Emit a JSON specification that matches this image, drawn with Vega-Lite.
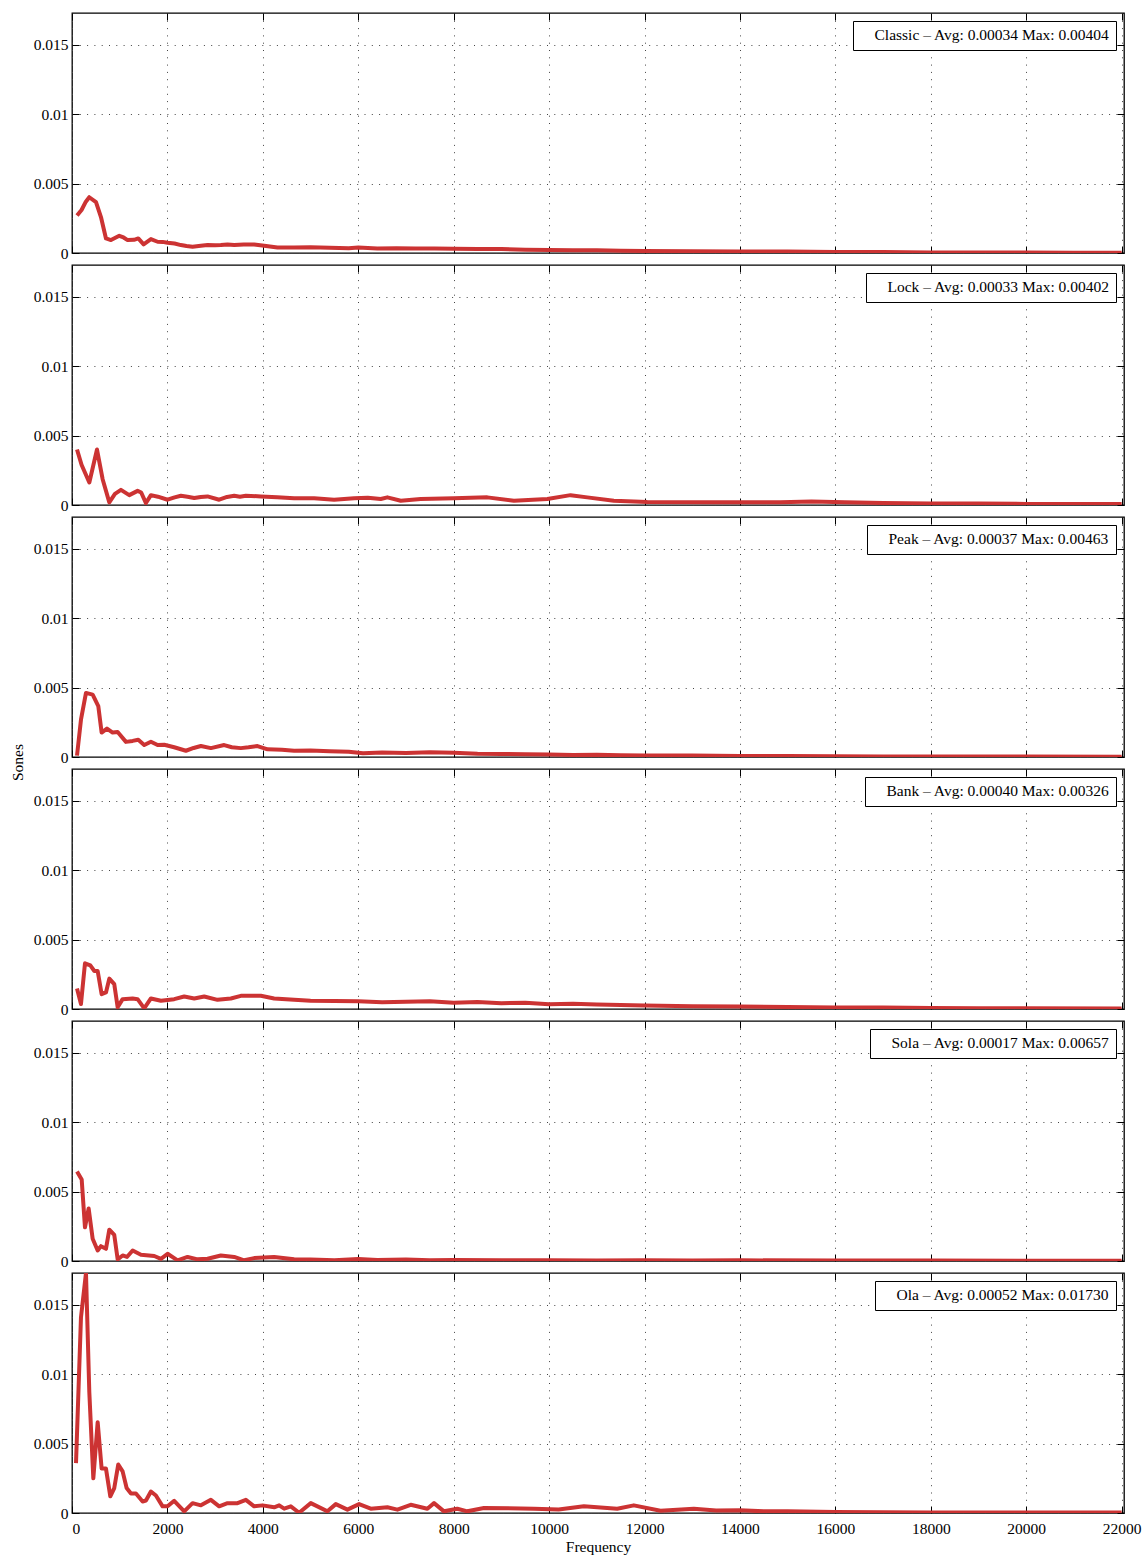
{
  "$schema": "https://vega.github.io/schema/vega-lite/v6.json",
  "padding": {"left": 9, "top": 11, "right": 5, "bottom": 2},
  "bounds": "flush",
  "spacing": 12,
  "config": {
    "font": "Liberation Serif",
    "view": {"stroke": "black", "strokeWidth": 1.3},
    "axis": {"domain": false, "tickSize": -7, "tickColor": "black", "tickWidth": 1, "labelFont": "Liberation Serif", "labelFontSize": 15.5, "labelColor": "black", "labelPadding": 11, "gridColor": "#444", "gridDash": [1, 6.3], "gridWidth": 1, "titleFont": "Liberation Serif", "titleFontSize": 15.5, "titleFontWeight": "normal", "titleColor": "black"},
    "legend": {"orient": "top-right", "offset": 8, "title": null, "strokeColor": "black", "fillColor": "white", "padding": 6, "symbolSize": 0, "symbolStrokeWidth": 0, "symbolOpacity": 0, "labelOffset": 0, "labelFont": "Liberation Serif", "labelFontSize": 15.5, "labelColor": "black", "labelLimit": 600}
  },
  "datasets": {
    "legends": [
      {"name": "Classic", "label": "Classic – Avg: 0.00034 Max: 0.00404"},
      {"name": "Lock", "label": "Lock – Avg: 0.00033 Max: 0.00402"},
      {"name": "Peak", "label": "Peak – Avg: 0.00037 Max: 0.00463"},
      {"name": "Bank", "label": "Bank – Avg: 0.00040 Max: 0.00326"},
      {"name": "Sola", "label": "Sola – Avg: 0.00017 Max: 0.00657"},
      {"name": "Ola", "label": "Ola – Avg: 0.00052 Max: 0.01730"}
    ],
    "spectra": [
      {"name":"Classic","freq":105,"sones":0.0027},{"name":"Classic","freq":200,"sones":0.0031},{"name":"Classic","freq":290,"sones":0.0037},{"name":"Classic","freq":362,"sones":0.00402},{"name":"Classic","freq":503,"sones":0.00366},{"name":"Classic","freq":607,"sones":0.00259},{"name":"Classic","freq":712,"sones":0.00105},{"name":"Classic","freq":817,"sones":0.00093},{"name":"Classic","freq":991,"sones":0.00124},{"name":"Classic","freq":1080,"sones":0.00112},{"name":"Classic","freq":1166,"sones":0.00093},{"name":"Classic","freq":1300,"sones":0.00095},{"name":"Classic","freq":1389,"sones":0.00105},{"name":"Classic","freq":1501,"sones":0.00062},{"name":"Classic","freq":1654,"sones":0.001},{"name":"Classic","freq":1794,"sones":0.00081},{"name":"Classic","freq":1900,"sones":0.0008},{"name":"Classic","freq":2003,"sones":0.00074},{"name":"Classic","freq":2150,"sones":0.00068},{"name":"Classic","freq":2283,"sones":0.00057},{"name":"Classic","freq":2400,"sones":0.0005},{"name":"Classic","freq":2527,"sones":0.00045},{"name":"Classic","freq":2700,"sones":0.00052},{"name":"Classic","freq":2841,"sones":0.00057},{"name":"Classic","freq":3000,"sones":0.00055},{"name":"Classic","freq":3120,"sones":0.00057},{"name":"Classic","freq":3260,"sones":0.00062},{"name":"Classic","freq":3400,"sones":0.00058},{"name":"Classic","freq":3600,"sones":0.00062},{"name":"Classic","freq":3818,"sones":0.00062},{"name":"Classic","freq":4028,"sones":0.00052},{"name":"Classic","freq":4307,"sones":0.0004},{"name":"Classic","freq":4650,"sones":0.0004},{"name":"Classic","freq":5000,"sones":0.00042},{"name":"Classic","freq":5400,"sones":0.00038},{"name":"Classic","freq":5800,"sones":0.00035},{"name":"Classic","freq":6000,"sones":0.0004},{"name":"Classic","freq":6400,"sones":0.00033},{"name":"Classic","freq":6800,"sones":0.00035},{"name":"Classic","freq":7200,"sones":0.00032},{"name":"Classic","freq":7600,"sones":0.00033},{"name":"Classic","freq":8000,"sones":0.00031},{"name":"Classic","freq":8500,"sones":0.00029},{"name":"Classic","freq":9000,"sones":0.00028},{"name":"Classic","freq":9500,"sones":0.00024},{"name":"Classic","freq":10000,"sones":0.00022},{"name":"Classic","freq":10500,"sones":0.0002},{"name":"Classic","freq":11000,"sones":0.0002},{"name":"Classic","freq":11500,"sones":0.00017},{"name":"Classic","freq":12000,"sones":0.00015},{"name":"Classic","freq":13000,"sones":0.00013},{"name":"Classic","freq":14000,"sones":0.0001},{"name":"Classic","freq":15000,"sones":0.0001},{"name":"Classic","freq":16000,"sones":0.00008},{"name":"Classic","freq":17000,"sones":0.00007},{"name":"Classic","freq":18000,"sones":0.00004},{"name":"Classic","freq":19000,"sones":0.00003},{"name":"Classic","freq":20000,"sones":0.00003},{"name":"Classic","freq":21000,"sones":0.00002},{"name":"Classic","freq":22000,"sones":0.00002},
      {"name":"Lock","freq":105,"sones":0.004},{"name":"Lock","freq":200,"sones":0.0029},{"name":"Lock","freq":363,"sones":0.00162},{"name":"Lock","freq":524,"sones":0.004},{"name":"Lock","freq":642,"sones":0.00186},{"name":"Lock","freq":782,"sones":0.00019},{"name":"Lock","freq":900,"sones":0.0008},{"name":"Lock","freq":1026,"sones":0.00109},{"name":"Lock","freq":1200,"sones":0.00071},{"name":"Lock","freq":1375,"sones":0.00102},{"name":"Lock","freq":1450,"sones":0.0009},{"name":"Lock","freq":1550,"sones":0.00014},{"name":"Lock","freq":1654,"sones":0.00071},{"name":"Lock","freq":1800,"sones":0.0006},{"name":"Lock","freq":2003,"sones":0.00038},{"name":"Lock","freq":2150,"sones":0.00055},{"name":"Lock","freq":2283,"sones":0.00067},{"name":"Lock","freq":2420,"sones":0.0006},{"name":"Lock","freq":2562,"sones":0.0005},{"name":"Lock","freq":2700,"sones":0.00058},{"name":"Lock","freq":2841,"sones":0.00062},{"name":"Lock","freq":3085,"sones":0.00038},{"name":"Lock","freq":3250,"sones":0.00058},{"name":"Lock","freq":3400,"sones":0.00067},{"name":"Lock","freq":3520,"sones":0.0006},{"name":"Lock","freq":3644,"sones":0.00067},{"name":"Lock","freq":3958,"sones":0.00062},{"name":"Lock","freq":4300,"sones":0.00055},{"name":"Lock","freq":4656,"sones":0.00048},{"name":"Lock","freq":5075,"sones":0.00048},{"name":"Lock","freq":5494,"sones":0.00038},{"name":"Lock","freq":5913,"sones":0.00048},{"name":"Lock","freq":6200,"sones":0.00052},{"name":"Lock","freq":6471,"sones":0.00043},{"name":"Lock","freq":6611,"sones":0.00055},{"name":"Lock","freq":6890,"sones":0.00031},{"name":"Lock","freq":7309,"sones":0.00043},{"name":"Lock","freq":8006,"sones":0.00048},{"name":"Lock","freq":8705,"sones":0.00055},{"name":"Lock","freq":9263,"sones":0.00031},{"name":"Lock","freq":9962,"sones":0.00043},{"name":"Lock","freq":10450,"sones":0.00071},{"name":"Lock","freq":10800,"sones":0.00055},{"name":"Lock","freq":11357,"sones":0.00031},{"name":"Lock","freq":12056,"sones":0.00022},{"name":"Lock","freq":13451,"sones":0.0002},{"name":"Lock","freq":14848,"sones":0.0002},{"name":"Lock","freq":15500,"sones":0.00026},{"name":"Lock","freq":16200,"sones":0.0002},{"name":"Lock","freq":17000,"sones":0.00015},{"name":"Lock","freq":18000,"sones":0.0001},{"name":"Lock","freq":19000,"sones":0.0001},{"name":"Lock","freq":20000,"sones":0.00008},{"name":"Lock","freq":21000,"sones":0.00008},{"name":"Lock","freq":22000,"sones":0.00008},
      {"name":"Peak","freq":105,"sones":0.0001},{"name":"Peak","freq":188,"sones":0.00269},{"name":"Peak","freq":293,"sones":0.00462},{"name":"Peak","freq":433,"sones":0.0045},{"name":"Peak","freq":551,"sones":0.00367},{"name":"Peak","freq":621,"sones":0.00176},{"name":"Peak","freq":733,"sones":0.00205},{"name":"Peak","freq":852,"sones":0.00176},{"name":"Peak","freq":957,"sones":0.0018},{"name":"Peak","freq":1131,"sones":0.00109},{"name":"Peak","freq":1271,"sones":0.00116},{"name":"Peak","freq":1389,"sones":0.00124},{"name":"Peak","freq":1514,"sones":0.00086},{"name":"Peak","freq":1654,"sones":0.0011},{"name":"Peak","freq":1794,"sones":0.00086},{"name":"Peak","freq":1933,"sones":0.00088},{"name":"Peak","freq":2142,"sones":0.0007},{"name":"Peak","freq":2387,"sones":0.00045},{"name":"Peak","freq":2550,"sones":0.00065},{"name":"Peak","freq":2702,"sones":0.00079},{"name":"Peak","freq":2911,"sones":0.00064},{"name":"Peak","freq":3190,"sones":0.00086},{"name":"Peak","freq":3350,"sones":0.0007},{"name":"Peak","freq":3539,"sones":0.00064},{"name":"Peak","freq":3700,"sones":0.0007},{"name":"Peak","freq":3888,"sones":0.00079},{"name":"Peak","freq":4098,"sones":0.00055},{"name":"Peak","freq":4400,"sones":0.00052},{"name":"Peak","freq":4656,"sones":0.00045},{"name":"Peak","freq":5000,"sones":0.00047},{"name":"Peak","freq":5400,"sones":0.00042},{"name":"Peak","freq":5800,"sones":0.00038},{"name":"Peak","freq":6100,"sones":0.00027},{"name":"Peak","freq":6500,"sones":0.00033},{"name":"Peak","freq":7000,"sones":0.00028},{"name":"Peak","freq":7500,"sones":0.00035},{"name":"Peak","freq":8000,"sones":0.00031},{"name":"Peak","freq":8500,"sones":0.00024},{"name":"Peak","freq":9000,"sones":0.00022},{"name":"Peak","freq":9500,"sones":0.0002},{"name":"Peak","freq":10000,"sones":0.00018},{"name":"Peak","freq":10500,"sones":0.00015},{"name":"Peak","freq":11000,"sones":0.00016},{"name":"Peak","freq":11500,"sones":0.00012},{"name":"Peak","freq":12000,"sones":0.00011},{"name":"Peak","freq":13000,"sones":0.0001},{"name":"Peak","freq":14000,"sones":0.00008},{"name":"Peak","freq":15000,"sones":0.00008},{"name":"Peak","freq":16000,"sones":0.00005},{"name":"Peak","freq":17000,"sones":0.00004},{"name":"Peak","freq":18000,"sones":0.00003},{"name":"Peak","freq":20000,"sones":0.00003},{"name":"Peak","freq":22000,"sones":0.00002},
      {"name":"Bank","freq":105,"sones":0.00148},{"name":"Bank","freq":188,"sones":0.00036},{"name":"Bank","freq":272,"sones":0.00329},{"name":"Bank","freq":384,"sones":0.00314},{"name":"Bank","freq":468,"sones":0.00274},{"name":"Bank","freq":538,"sones":0.00274},{"name":"Bank","freq":621,"sones":0.00107},{"name":"Bank","freq":712,"sones":0.00119},{"name":"Bank","freq":782,"sones":0.00219},{"name":"Bank","freq":886,"sones":0.00179},{"name":"Bank","freq":957,"sones":0.00012},{"name":"Bank","freq":1061,"sones":0.00071},{"name":"Bank","freq":1271,"sones":0.00076},{"name":"Bank","freq":1375,"sones":0.00071},{"name":"Bank","freq":1514,"sones":0.00005},{"name":"Bank","freq":1654,"sones":0.00076},{"name":"Bank","freq":1864,"sones":0.00059},{"name":"Bank","freq":2142,"sones":0.00071},{"name":"Bank","freq":2352,"sones":0.0009},{"name":"Bank","freq":2562,"sones":0.00076},{"name":"Bank","freq":2771,"sones":0.0009},{"name":"Bank","freq":3050,"sones":0.00066},{"name":"Bank","freq":3329,"sones":0.00076},{"name":"Bank","freq":3539,"sones":0.00095},{"name":"Bank","freq":3958,"sones":0.00095},{"name":"Bank","freq":4237,"sones":0.00076},{"name":"Bank","freq":4656,"sones":0.00066},{"name":"Bank","freq":5000,"sones":0.0006},{"name":"Bank","freq":5500,"sones":0.00058},{"name":"Bank","freq":6000,"sones":0.00055},{"name":"Bank","freq":6500,"sones":0.00048},{"name":"Bank","freq":7000,"sones":0.00052},{"name":"Bank","freq":7500,"sones":0.00055},{"name":"Bank","freq":8000,"sones":0.00045},{"name":"Bank","freq":8500,"sones":0.0005},{"name":"Bank","freq":9000,"sones":0.00042},{"name":"Bank","freq":9500,"sones":0.00045},{"name":"Bank","freq":10000,"sones":0.00035},{"name":"Bank","freq":10500,"sones":0.00038},{"name":"Bank","freq":11000,"sones":0.00032},{"name":"Bank","freq":11500,"sones":0.00028},{"name":"Bank","freq":12000,"sones":0.00025},{"name":"Bank","freq":13000,"sones":0.0002},{"name":"Bank","freq":14000,"sones":0.00018},{"name":"Bank","freq":15000,"sones":0.00015},{"name":"Bank","freq":16000,"sones":0.0001},{"name":"Bank","freq":17000,"sones":0.0001},{"name":"Bank","freq":18000,"sones":0.00007},{"name":"Bank","freq":19000,"sones":0.00005},{"name":"Bank","freq":20000,"sones":0.00005},{"name":"Bank","freq":22000,"sones":0.00004},
      {"name":"Sola","freq":105,"sones":0.00645},{"name":"Sola","freq":203,"sones":0.00588},{"name":"Sola","freq":272,"sones":0.00243},{"name":"Sola","freq":349,"sones":0.00379},{"name":"Sola","freq":433,"sones":0.0016},{"name":"Sola","freq":538,"sones":0.00076},{"name":"Sola","freq":607,"sones":0.00107},{"name":"Sola","freq":712,"sones":0.00088},{"name":"Sola","freq":782,"sones":0.00226},{"name":"Sola","freq":886,"sones":0.00188},{"name":"Sola","freq":957,"sones":0.00012},{"name":"Sola","freq":1061,"sones":0.0004},{"name":"Sola","freq":1152,"sones":0.00029},{"name":"Sola","freq":1271,"sones":0.00076},{"name":"Sola","freq":1445,"sones":0.00045},{"name":"Sola","freq":1724,"sones":0.00036},{"name":"Sola","freq":1864,"sones":0.00016},{"name":"Sola","freq":2003,"sones":0.00052},{"name":"Sola","freq":2213,"sones":0.00005},{"name":"Sola","freq":2422,"sones":0.00029},{"name":"Sola","freq":2632,"sones":0.00012},{"name":"Sola","freq":2841,"sones":0.00016},{"name":"Sola","freq":3120,"sones":0.0004},{"name":"Sola","freq":3400,"sones":0.00029},{"name":"Sola","freq":3609,"sones":0.00005},{"name":"Sola","freq":3818,"sones":0.00021},{"name":"Sola","freq":4237,"sones":0.00029},{"name":"Sola","freq":4656,"sones":0.00012},{"name":"Sola","freq":5000,"sones":0.0001},{"name":"Sola","freq":5500,"sones":0.00005},{"name":"Sola","freq":6000,"sones":0.00015},{"name":"Sola","freq":6400,"sones":0.00008},{"name":"Sola","freq":7000,"sones":0.0001},{"name":"Sola","freq":7500,"sones":0.00006},{"name":"Sola","freq":8000,"sones":0.00008},{"name":"Sola","freq":9000,"sones":0.00005},{"name":"Sola","freq":10000,"sones":0.00006},{"name":"Sola","freq":11000,"sones":0.00004},{"name":"Sola","freq":12000,"sones":0.00005},{"name":"Sola","freq":13000,"sones":0.00004},{"name":"Sola","freq":14000,"sones":0.00005},{"name":"Sola","freq":16000,"sones":0.00003},{"name":"Sola","freq":18000,"sones":0.00003},{"name":"Sola","freq":20000,"sones":0.00002},{"name":"Sola","freq":22000,"sones":0.00002},
      {"name":"Ola","freq":84,"sones":0.0036},{"name":"Ola","freq":188,"sones":0.0141},{"name":"Ola","freq":293,"sones":0.0173},{"name":"Ola","freq":363,"sones":0.0087},{"name":"Ola","freq":447,"sones":0.0025},{"name":"Ola","freq":538,"sones":0.00655},{"name":"Ola","freq":621,"sones":0.0032},{"name":"Ola","freq":712,"sones":0.0032},{"name":"Ola","freq":803,"sones":0.0012},{"name":"Ola","freq":886,"sones":0.0018},{"name":"Ola","freq":970,"sones":0.0035},{"name":"Ola","freq":1061,"sones":0.003},{"name":"Ola","freq":1145,"sones":0.0018},{"name":"Ola","freq":1236,"sones":0.0014},{"name":"Ola","freq":1340,"sones":0.0014},{"name":"Ola","freq":1480,"sones":0.00083},{"name":"Ola","freq":1550,"sones":0.0009},{"name":"Ola","freq":1654,"sones":0.00155},{"name":"Ola","freq":1759,"sones":0.00126},{"name":"Ola","freq":1899,"sones":0.00048},{"name":"Ola","freq":2003,"sones":0.00048},{"name":"Ola","freq":2142,"sones":0.00088},{"name":"Ola","freq":2352,"sones":0.00012},{"name":"Ola","freq":2527,"sones":0.00071},{"name":"Ola","freq":2702,"sones":0.00055},{"name":"Ola","freq":2911,"sones":0.00095},{"name":"Ola","freq":3085,"sones":0.00048},{"name":"Ola","freq":3260,"sones":0.00071},{"name":"Ola","freq":3470,"sones":0.00071},{"name":"Ola","freq":3644,"sones":0.00095},{"name":"Ola","freq":3818,"sones":0.00048},{"name":"Ola","freq":3993,"sones":0.00055},{"name":"Ola","freq":4237,"sones":0.00041},{"name":"Ola","freq":4342,"sones":0.00055},{"name":"Ola","freq":4447,"sones":0.00031},{"name":"Ola","freq":4586,"sones":0.00048},{"name":"Ola","freq":4761,"sones":0.00002},{"name":"Ola","freq":5005,"sones":0.00071},{"name":"Ola","freq":5354,"sones":0.00012},{"name":"Ola","freq":5529,"sones":0.00064},{"name":"Ola","freq":5773,"sones":0.00024},{"name":"Ola","freq":6017,"sones":0.00064},{"name":"Ola","freq":6262,"sones":0.00031},{"name":"Ola","freq":6611,"sones":0.00041},{"name":"Ola","freq":6821,"sones":0.00024},{"name":"Ola","freq":7099,"sones":0.00059},{"name":"Ola","freq":7449,"sones":0.00031},{"name":"Ola","freq":7588,"sones":0.00071},{"name":"Ola","freq":7797,"sones":0.00012},{"name":"Ola","freq":8077,"sones":0.00031},{"name":"Ola","freq":8286,"sones":0.00012},{"name":"Ola","freq":8635,"sones":0.00036},{"name":"Ola","freq":9682,"sones":0.00031},{"name":"Ola","freq":10200,"sones":0.00025},{"name":"Ola","freq":10729,"sones":0.00048},{"name":"Ola","freq":11427,"sones":0.00031},{"name":"Ola","freq":11776,"sones":0.00055},{"name":"Ola","freq":12335,"sones":0.00016},{"name":"Ola","freq":13033,"sones":0.00031},{"name":"Ola","freq":13500,"sones":0.00018},{"name":"Ola","freq":14000,"sones":0.0002},{"name":"Ola","freq":14500,"sones":0.00012},{"name":"Ola","freq":15000,"sones":0.00012},{"name":"Ola","freq":16000,"sones":0.00008},{"name":"Ola","freq":17000,"sones":0.00006},{"name":"Ola","freq":18000,"sones":0.00004},{"name":"Ola","freq":20000,"sones":0.00003},{"name":"Ola","freq":22000,"sones":0.00003}
    ]
  },
  "resolve": {"scale": {"color": "independent"}, "legend": {"color": "independent"}},
  "vconcat": [
    {
      "width": 1052, "height": 240,
      "data": {"name": "spectra"},
      "transform": [{"filter": "datum.name === 'Classic'"}, {"lookup": "name", "from": {"data": {"name": "legends"}, "key": "name", "fields": ["label"]}}],
      "layer": [
        {"mark": {"type": "line", "strokeWidth": 4, "clip": true, "strokeJoin": "round"},
         "encoding": {
           "x": {"field": "freq", "type": "quantitative", "scale": {"domain": [0, 22050], "nice": false, "zero": false}, "axis": {"orient": "bottom", "values": [0,2000,4000,6000,8000,10000,12000,14000,16000,18000,20000,22000], "labels": false, "title": null, "grid": true}},
           "y": {"field": "sones", "type": "quantitative", "scale": {"domain": [0, 0.0173], "nice": false}, "axis": {"orient": "left", "values": [0,0.005,0.01,0.015], "format": "~g", "title": null, "grid": true}},
           "color": {"field": "label", "type": "nominal", "scale": {"range": ["#cc3333"]}}
         }},
        {"mark": {"type": "line", "opacity": 0},
         "encoding": {
           "x": {"field": "freq", "type": "quantitative", "axis": {"orient": "top", "values": [0,2000,4000,6000,8000,10000,12000,14000,16000,18000,20000,22000], "labels": false, "title": null, "grid": false}},
           "y": {"field": "sones", "type": "quantitative", "axis": {"orient": "right", "values": [0,0.005,0.01,0.015], "labels": false, "title": null, "grid": false}}
         }}
      ],
      "resolve": {"axis": {"x": "independent", "y": "independent"}}
    },
    {
      "width": 1052, "height": 240,
      "data": {"name": "spectra"},
      "transform": [{"filter": "datum.name === 'Lock'"}, {"lookup": "name", "from": {"data": {"name": "legends"}, "key": "name", "fields": ["label"]}}],
      "layer": [
        {"mark": {"type": "line", "strokeWidth": 4, "clip": true, "strokeJoin": "round"},
         "encoding": {
           "x": {"field": "freq", "type": "quantitative", "scale": {"domain": [0, 22050], "nice": false, "zero": false}, "axis": {"orient": "bottom", "values": [0,2000,4000,6000,8000,10000,12000,14000,16000,18000,20000,22000], "labels": false, "title": null, "grid": true}},
           "y": {"field": "sones", "type": "quantitative", "scale": {"domain": [0, 0.0173], "nice": false}, "axis": {"orient": "left", "values": [0,0.005,0.01,0.015], "format": "~g", "title": null, "grid": true}},
           "color": {"field": "label", "type": "nominal", "scale": {"range": ["#cc3333"]}}
         }},
        {"mark": {"type": "line", "opacity": 0},
         "encoding": {
           "x": {"field": "freq", "type": "quantitative", "axis": {"orient": "top", "values": [0,2000,4000,6000,8000,10000,12000,14000,16000,18000,20000,22000], "labels": false, "title": null, "grid": false}},
           "y": {"field": "sones", "type": "quantitative", "axis": {"orient": "right", "values": [0,0.005,0.01,0.015], "labels": false, "title": null, "grid": false}}
         }}
      ],
      "resolve": {"axis": {"x": "independent", "y": "independent"}}
    },
    {
      "width": 1052, "height": 240,
      "data": {"name": "spectra"},
      "transform": [{"filter": "datum.name === 'Peak'"}, {"lookup": "name", "from": {"data": {"name": "legends"}, "key": "name", "fields": ["label"]}}],
      "layer": [
        {"mark": {"type": "line", "strokeWidth": 4, "clip": true, "strokeJoin": "round"},
         "encoding": {
           "x": {"field": "freq", "type": "quantitative", "scale": {"domain": [0, 22050], "nice": false, "zero": false}, "axis": {"orient": "bottom", "values": [0,2000,4000,6000,8000,10000,12000,14000,16000,18000,20000,22000], "labels": false, "title": null, "grid": true}},
           "y": {"field": "sones", "type": "quantitative", "scale": {"domain": [0, 0.0173], "nice": false}, "axis": {"orient": "left", "values": [0,0.005,0.01,0.015], "format": "~g", "title": null, "grid": true}},
           "color": {"field": "label", "type": "nominal", "scale": {"range": ["#cc3333"]}}
         }},
        {"mark": {"type": "line", "opacity": 0},
         "encoding": {
           "x": {"field": "freq", "type": "quantitative", "axis": {"orient": "top", "values": [0,2000,4000,6000,8000,10000,12000,14000,16000,18000,20000,22000], "labels": false, "title": null, "grid": false}},
           "y": {"field": "sones", "type": "quantitative", "axis": {"orient": "right", "values": [0,0.005,0.01,0.015], "labels": false, "title": null, "grid": false}}
         }}
      ],
      "resolve": {"axis": {"x": "independent", "y": "independent"}}
    },
    {
      "width": 1052, "height": 240,
      "data": {"name": "spectra"},
      "transform": [{"filter": "datum.name === 'Bank'"}, {"lookup": "name", "from": {"data": {"name": "legends"}, "key": "name", "fields": ["label"]}}],
      "layer": [
        {"mark": {"type": "line", "strokeWidth": 4, "clip": true, "strokeJoin": "round"},
         "encoding": {
           "x": {"field": "freq", "type": "quantitative", "scale": {"domain": [0, 22050], "nice": false, "zero": false}, "axis": {"orient": "bottom", "values": [0,2000,4000,6000,8000,10000,12000,14000,16000,18000,20000,22000], "labels": false, "title": null, "grid": true}},
           "y": {"field": "sones", "type": "quantitative", "scale": {"domain": [0, 0.0173], "nice": false}, "axis": {"orient": "left", "values": [0,0.005,0.01,0.015], "format": "~g", "title": "Sones", "titleY": -7, "titlePadding": 8, "grid": true}},
           "color": {"field": "label", "type": "nominal", "scale": {"range": ["#cc3333"]}}
         }},
        {"mark": {"type": "line", "opacity": 0},
         "encoding": {
           "x": {"field": "freq", "type": "quantitative", "axis": {"orient": "top", "values": [0,2000,4000,6000,8000,10000,12000,14000,16000,18000,20000,22000], "labels": false, "title": null, "grid": false}},
           "y": {"field": "sones", "type": "quantitative", "axis": {"orient": "right", "values": [0,0.005,0.01,0.015], "labels": false, "title": null, "grid": false}}
         }}
      ],
      "resolve": {"axis": {"x": "independent", "y": "independent"}}
    },
    {
      "width": 1052, "height": 240,
      "data": {"name": "spectra"},
      "transform": [{"filter": "datum.name === 'Sola'"}, {"lookup": "name", "from": {"data": {"name": "legends"}, "key": "name", "fields": ["label"]}}],
      "layer": [
        {"mark": {"type": "line", "strokeWidth": 4, "clip": true, "strokeJoin": "round"},
         "encoding": {
           "x": {"field": "freq", "type": "quantitative", "scale": {"domain": [0, 22050], "nice": false, "zero": false}, "axis": {"orient": "bottom", "values": [0,2000,4000,6000,8000,10000,12000,14000,16000,18000,20000,22000], "labels": false, "title": null, "grid": true}},
           "y": {"field": "sones", "type": "quantitative", "scale": {"domain": [0, 0.0173], "nice": false}, "axis": {"orient": "left", "values": [0,0.005,0.01,0.015], "format": "~g", "title": null, "grid": true}},
           "color": {"field": "label", "type": "nominal", "scale": {"range": ["#cc3333"]}}
         }},
        {"mark": {"type": "line", "opacity": 0},
         "encoding": {
           "x": {"field": "freq", "type": "quantitative", "axis": {"orient": "top", "values": [0,2000,4000,6000,8000,10000,12000,14000,16000,18000,20000,22000], "labels": false, "title": null, "grid": false}},
           "y": {"field": "sones", "type": "quantitative", "axis": {"orient": "right", "values": [0,0.005,0.01,0.015], "labels": false, "title": null, "grid": false}}
         }}
      ],
      "resolve": {"axis": {"x": "independent", "y": "independent"}}
    },
    {
      "width": 1052, "height": 240,
      "data": {"name": "spectra"},
      "transform": [{"filter": "datum.name === 'Ola'"}, {"lookup": "name", "from": {"data": {"name": "legends"}, "key": "name", "fields": ["label"]}}],
      "layer": [
        {"mark": {"type": "line", "strokeWidth": 4, "clip": true, "strokeJoin": "round"},
         "encoding": {
           "x": {"field": "freq", "type": "quantitative", "scale": {"domain": [0, 22050], "nice": false, "zero": false}, "axis": {"orient": "bottom", "values": [0,2000,4000,6000,8000,10000,12000,14000,16000,18000,20000,22000], "format": "d", "labelPadding": 15, "title": "Frequency", "titlePadding": 3, "grid": true}},
           "y": {"field": "sones", "type": "quantitative", "scale": {"domain": [0, 0.0173], "nice": false}, "axis": {"orient": "left", "values": [0,0.005,0.01,0.015], "format": "~g", "title": null, "grid": true}},
           "color": {"field": "label", "type": "nominal", "scale": {"range": ["#cc3333"]}}
         }},
        {"mark": {"type": "line", "opacity": 0},
         "encoding": {
           "x": {"field": "freq", "type": "quantitative", "axis": {"orient": "top", "values": [0,2000,4000,6000,8000,10000,12000,14000,16000,18000,20000,22000], "labels": false, "title": null, "grid": false}},
           "y": {"field": "sones", "type": "quantitative", "axis": {"orient": "right", "values": [0,0.005,0.01,0.015], "labels": false, "title": null, "grid": false}}
         }}
      ],
      "resolve": {"axis": {"x": "independent", "y": "independent"}}
    }
  ]
}
